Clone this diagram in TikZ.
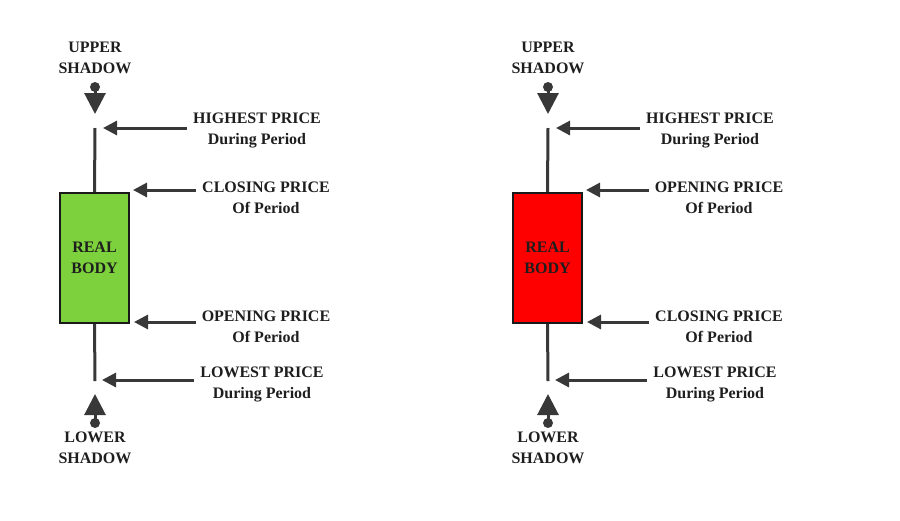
\documentclass[tikz,border=0pt]{standalone}
\usepackage{fontspec}
\setmainfont{Liberation Serif}
\usetikzlibrary{arrows.meta,positioning}
\definecolor{bullgreen}{HTML}{7DD13C}
\definecolor{bearred}{HTML}{FF0000}
\definecolor{arrowgray}{HTML}{383838}
\definecolor{textgray}{HTML}{1E1E1E}

\begin{document}
\begin{tikzpicture}[x=1pt, y=-1pt,
    txt/.style={font=\bfseries\fontsize{16}{21}\selectfont, text=textgray, align=center, inner sep=0pt},
    candle/.style={txt, draw=black!90, line width=2pt, minimum width=69pt, minimum height=130pt},
    wick/.style={draw=arrowgray, line width=3pt},
    pointer/.style={draw=arrowgray, line width=3pt, -{Triangle[length=14pt, width=14pt]}},
    shadowptr/.style={draw=arrowgray, line width=3pt, -{Triangle[length=21pt, width=21pt]}},
    knob/.style={circle, fill=arrowgray, inner sep=0pt, minimum size=10pt}]
\useasboundingbox (0,0) rectangle (900,520);

\foreach \i/\dx/\bodycol/\upper/\lower in {1/0/bullgreen/CLOSING/OPENING, 2/453/bearred/OPENING/CLOSING}{
  \begin{scope}[xshift=\dx pt]
    % candle
    \node[candle, fill=\bodycol] (body\i) at (94.5,258) {REAL\\BODY};
    \coordinate (hi\i) at (95,128);
    \coordinate (lo\i) at (95,381);
    \draw[wick] (hi\i) -- (body\i.north);
    \draw[wick] (body\i.south) -- (lo\i);

    % shadows
    \node[txt] (up\i) at (95,57.5) {UPPER\\SHADOW};
    \node[knob] (uk\i) at (95,87) {};
    \coordinate (ue\i) at (95,114);
    \draw[shadowptr] (uk\i.center) -- (ue\i);

    \node[txt] (dn\i) at (95,448) {LOWER\\SHADOW};
    \node[knob] (dk\i) at (95,423) {};
    \coordinate (de\i) at (95,394);
    \draw[shadowptr] (dk\i.center) -- (de\i);

    % price labels
    \node[txt] (hl\i) at (257,130.5) {HIGHEST PRICE\\During Period};
    \node[txt] (cl\i) at (266,197.5) {\upper{} PRICE\\Of Period};
    \node[txt] (ol\i) at (266,326.5) {\lower{} PRICE\\Of Period};
    \node[txt] (ll\i) at (262,384.5) {LOWEST PRICE\\During Period};

    \coordinate (ht\i) at (103,128);
    \coordinate (ct\i) at (133,190);
    \coordinate (ot\i) at (134,322);
    \coordinate (lt\i) at (102,380);
    \draw[pointer] ([xshift=-6pt]hl\i.west |- ht\i) -- (ht\i);
    \draw[pointer] ([xshift=-6pt]cl\i.west |- ct\i) -- (ct\i);
    \draw[pointer] ([xshift=-6pt]ol\i.west |- ot\i) -- (ot\i);
    \draw[pointer] ([xshift=-6pt]ll\i.west |- lt\i) -- (lt\i);
  \end{scope}
}
\end{tikzpicture}
\end{document}
